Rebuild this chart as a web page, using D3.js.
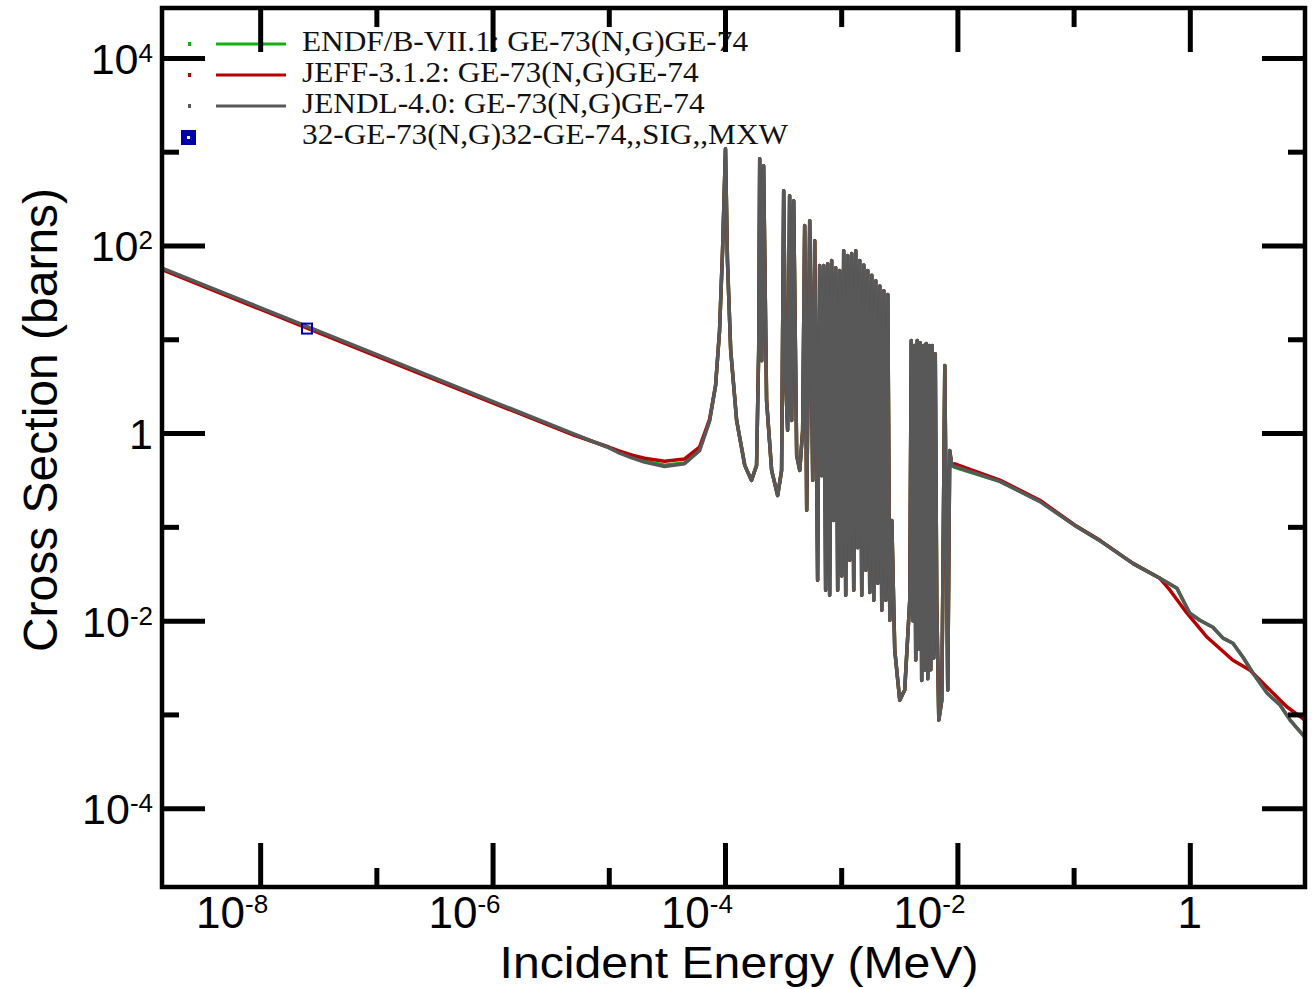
<!DOCTYPE html>
<html>
<head>
<meta charset="utf-8">
<script src="https://cdn.jsdelivr.net/npm/d3@7"></script>
<style>
  body { margin: 0; background: #fff; }
  svg { display: block; }
</style>
</head>
<body>
<svg id="chart" width="1312" height="989"></svg>
<script>
// ---- data ----
// energies in MeV, cross sections in barns

// smooth 1/v region, below the first resonance
let smoothE = [1.43e-9, 1e-8, 1e-7, 1e-6, 5e-6, 1e-5, 1.24e-5, 1.6e-5, 2.03e-5, 3.02e-5, 4.49e-5, 6.04e-5, 7.37e-5];
let endfSmooth = [56.6, 21.4, 6.77, 2.14, 0.96, 0.70, 0.62, 0.55, 0.50, 0.455, 0.48, 0.66, 1.36];
let jeffSmooth = [55.2, 20.9, 6.6, 2.1, 0.95, 0.71, 0.64, 0.58, 0.54, 0.50, 0.53, 0.71, 1.4];
let jendlSmooth = [57.5, 21.8, 6.9, 2.18, 0.98, 0.70, 0.61, 0.54, 0.49, 0.44, 0.47, 0.65, 1.34];

// resolved resonance region (the three libraries overlap at this scale)
let resE = [8.3e-5, 8.98e-5, 9.53e-5, 1.01e-4, 1.05e-4, 1.12e-4, 1.26e-4, 1.48e-4, 1.69e-4, 1.87e-4,
  1.95e-4, 1.99e-4, 2.07e-4, 2.15e-4, 2.28e-4, 2.52e-4, 2.84e-4, 3.07e-4, 3.20e-4, 3.33e-4,
  3.46e-4, 3.60e-4, 3.75e-4, 3.90e-4, 4.14e-4, 4.40e-4, 4.66e-4, 4.85e-4, 5.05e-4, 5.36e-4,
  5.69e-4, 5.92e-4,
  6.27e-4, 6.53e-4, 6.79e-4, 7.07e-4, 7.35e-4, 7.65e-4, 7.96e-4, 8.28e-4, 8.62e-4, 8.97e-4,
  9.33e-4, 9.71e-4, 1.010e-3, 1.051e-3, 1.094e-3, 1.138e-3, 1.184e-3, 1.232e-3, 1.282e-3, 1.334e-3,
  1.388e-3, 1.444e-3, 1.503e-3, 1.564e-3, 1.627e-3, 1.693e-3, 1.761e-3, 1.833e-3, 1.907e-3, 1.984e-3,
  2.064e-3, 2.148e-3, 2.235e-3, 2.326e-3, 2.420e-3, 2.518e-3, 2.620e-3, 2.726e-3,
  2.89e-3, 3.19e-3, 3.52e-3,
  3.89e-3, 4.01e-3, 4.13e-3, 4.25e-3, 4.38e-3, 4.51e-3, 4.65e-3, 4.79e-3, 4.93e-3, 5.08e-3,
  5.24e-3, 5.39e-3, 5.56e-3, 5.72e-3, 5.90e-3, 6.07e-3, 6.26e-3, 6.45e-3, 6.64e-3,
  6.92e-3, 7.34e-3, 7.79e-3, 8.26e-3, 8.59e-3, 8.95e-3];
let resSigma = [3.21, 12.4, 88, 1075, 68.9, 7.6, 1.36, 0.452, 0.313, 0.452,
  7.6, 840, 5.9, 708, 2.22, 0.40, 0.216, 0.40, 384, 3.63,
  1.07, 339, 1.36, 300, 0.577, 0.40, 1.07, 163, 0.150, 184,
  0.313, 112,
  0.0269, 61, 0.35, 61, 0.0211, 64, 0.0186, 69, 0.117, 58,
  0.0211, 54, 0.03, 88, 0.0186, 78, 0.044, 82, 0.0211, 88,
  0.06, 69, 0.0186, 62, 0.0344, 54, 0.02, 48, 0.0165, 42,
  0.025, 37, 0.0129, 33, 0.0165, 30, 0.0101, 0.117,
  0.00484, 0.00142, 0.00182,
  0.0165, 9.7, 0.01, 8.6, 0.0038, 9.7, 0.005, 9.2, 0.0023, 8.6,
  0.003, 9.0, 0.0024, 8.6, 0.003, 8.6, 0.004, 7.0, 0.0165,
  0.00087, 0.00142, 5.25, 0.00182, 0.653, 0.452];

// fast region
let endfTailE = [9.5e-3, 2.32e-2, 5.13e-2, 0.1026, 0.168, 0.324, 0.553, 0.776, 0.875, 1.0, 1.22, 1.58, 1.93, 2.35, 2.87, 3.50, 4.62, 5.98, 7.30, 9.8];
let endfTail = [0.43, 0.305, 0.188, 0.104, 0.0718, 0.0408, 0.0283, 0.0221, 0.0165, 0.0120, 0.0101, 0.0085, 0.0065, 0.00574, 0.00407, 0.00275, 0.00169, 0.00126, 0.00087, 0.00057];
let jeffTailE = [9.5e-3, 2.32e-2, 5.13e-2, 0.1026, 0.168, 0.324, 0.553, 0.675, 0.946, 1.41, 2.35, 3.30, 4.62, 6.87, 9.8];
let jeffTail = [0.47, 0.315, 0.192, 0.104, 0.0718, 0.0408, 0.0283, 0.0211, 0.0120, 0.00665, 0.00378, 0.00296, 0.00195, 0.00120, 0.00087];
let jendlTailE = [9.5e-3, 2.32e-2, 5.13e-2, 0.1026, 0.168, 0.324, 0.553, 0.776, 0.875, 1.0, 1.22, 1.58, 1.93, 2.35, 2.87, 3.50, 4.62, 5.98, 7.30, 9.8];
let jendlTail = [0.44, 0.305, 0.186, 0.103, 0.0712, 0.0405, 0.0283, 0.0221, 0.0165, 0.0120, 0.0101, 0.0085, 0.0065, 0.00574, 0.00407, 0.00275, 0.00169, 0.00126, 0.00087, 0.00057];

// Maxwellian / thermal point
let mxwE = [2.53e-8];
let mxwSigma = [13.0];

let legendLabels = [
  "ENDF/B-VII.1: GE-73(N,G)GE-74",
  "JEFF-3.1.2: GE-73(N,G)GE-74",
  "JENDL-4.0: GE-73(N,G)GE-74",
  "32-GE-73(N,G)32-GE-74,,SIG,,MXW"
];
let seriesColors = ["#10b010", "#b80000", "#585858"];

let xMajor = [1e-8, 1e-6, 1e-4, 1e-2, 1];
let xMinor = [1e-7, 1e-5, 1e-3, 1e-1];
let xLabelExp = [-8, -6, -4, -2, 0];
let yMajor = [1e4, 1e2, 1, 1e-2, 1e-4];
let yMinor = [1e3, 1e1, 1e-1, 1e-3];
let yLabelExp = [4, 2, 0, -2, -4];

// ---- layout ----
let plotLeft = 162, plotRight = 1305, plotTop = 8, plotBottom = 887;

let svg = d3.select("#chart");

let x = d3.scaleLog()
  .domain([1.43e-9, 9.8])
  .range([plotLeft, plotRight]);
let y = d3.scaleLog()
  .domain([Math.pow(10, -4.84), Math.pow(10, 4.532)])
  .range([plotBottom, plotTop]);

svg.append("defs").append("clipPath").attr("id", "plotclip")
  .append("rect")
  .attr("x", plotLeft).attr("y", plotTop)
  .attr("width", plotRight - plotLeft).attr("height", plotBottom - plotTop);

function build(es, ss) {
  return d3.zip(es, ss);
}
let endfData = build(smoothE.concat(resE, endfTailE), endfSmooth.concat(resSigma, endfTail));
let jeffData = build(smoothE.concat(resE, jeffTailE), jeffSmooth.concat(resSigma, jeffTail));
let jendlData = build(smoothE.concat(resE, jendlTailE), jendlSmooth.concat(resSigma, jendlTail));

let line = d3.line()
  .x(d => x(d[0]))
  .y(d => y(d[1]));

let plot = svg.append("g").attr("clip-path", "url(#plotclip)");

[endfData, jeffData, jendlData].forEach((data, i) => {
  plot.append("path")
    .datum(data)
    .attr("fill", "none")
    .attr("stroke", seriesColors[i])
    .attr("stroke-width", 3.5)
    .attr("stroke-linejoin", "round")
    .attr("d", line);
});

plot.selectAll("rect.mxw")
  .data(d3.zip(mxwE, mxwSigma))
  .enter()
  .append("rect")
  .attr("class", "mxw")
  .attr("x", d => x(d[0]) - 5)
  .attr("y", d => y(d[1]) - 5)
  .attr("width", 10)
  .attr("height", 10)
  .attr("fill", "none")
  .attr("stroke", "#0000b0")
  .attr("stroke-width", 2);

// ---- legend ----
let legend = svg.append("g");
legendLabels.forEach((lab, i) => {
  let ly = 44 + i * 31;
  if (i < 3) {
    legend.append("rect")
      .attr("x", 188).attr("y", ly - 2)
      .attr("width", 3).attr("height", 4)
      .attr("fill", seriesColors[i]);
    legend.append("line")
      .attr("x1", 216).attr("x2", 286)
      .attr("y1", ly).attr("y2", ly)
      .attr("stroke", seriesColors[i])
      .attr("stroke-width", 3);
  } else {
    legend.append("rect")
      .attr("x", 181).attr("y", ly - 7)
      .attr("width", 15).attr("height", 15)
      .attr("fill", "#0000a8");
    legend.append("rect")
      .attr("x", 187).attr("y", ly - 1)
      .attr("width", 3).attr("height", 3)
      .attr("fill", "#fff");
  }
  legend.append("text")
    .attr("transform", "translate(302," + (ly + 7) + ") scale(1.08,1)")
    .attr("font-family", "'Liberation Serif', 'Times New Roman', serif")
    .attr("font-size", 29)
    .attr("fill", "#111")
    .text(lab);
});

// ---- axes: ticks pointing inward on all four sides ----
function styleAxis(g) {
  g.select(".domain").remove();
  g.selectAll(".tick line").attr("stroke", "#000").attr("stroke-width", 5);
  g.selectAll(".tick text").remove();
}
svg.append("g").attr("transform", "translate(0," + plotBottom + ")")
  .call(d3.axisBottom(x).tickValues(xMajor).tickSize(-44)).call(styleAxis);
svg.append("g").attr("transform", "translate(0," + plotBottom + ")")
  .call(d3.axisBottom(x).tickValues(xMinor).tickSize(-19)).call(styleAxis);
svg.append("g").attr("transform", "translate(0," + plotTop + ")")
  .call(d3.axisTop(x).tickValues(xMajor).tickSize(-44)).call(styleAxis);
svg.append("g").attr("transform", "translate(0," + plotTop + ")")
  .call(d3.axisTop(x).tickValues(xMinor).tickSize(-19)).call(styleAxis);
svg.append("g").attr("transform", "translate(" + plotLeft + ",0)")
  .call(d3.axisLeft(y).tickValues(yMajor).tickSize(-43)).call(styleAxis);
svg.append("g").attr("transform", "translate(" + plotLeft + ",0)")
  .call(d3.axisLeft(y).tickValues(yMinor).tickSize(-17)).call(styleAxis);
svg.append("g").attr("transform", "translate(" + plotRight + ",0)")
  .call(d3.axisRight(y).tickValues(yMajor).tickSize(-43)).call(styleAxis);
svg.append("g").attr("transform", "translate(" + plotRight + ",0)")
  .call(d3.axisRight(y).tickValues(yMinor).tickSize(-17)).call(styleAxis);

svg.append("rect")
  .attr("x", plotLeft).attr("y", plotTop)
  .attr("width", plotRight - plotLeft).attr("height", plotBottom - plotTop)
  .attr("fill", "none")
  .attr("stroke", "#000")
  .attr("stroke-width", 4.5);

// ---- tick labels with superscript exponents ----
let labelFont = "'Liberation Sans', Arial, sans-serif";

xMajor.forEach((v, i) => {
  let e = xLabelExp[i];
  let t = svg.append("text")
    .attr("font-family", labelFont)
    .attr("font-size", 44)
    .attr("fill", "#000")
    .attr("y", plotBottom + 41);
  if (e === 0) {
    t.attr("x", x(v)).attr("text-anchor", "middle").text("1");
  } else {
    t.attr("x", x(v) + 8).attr("text-anchor", "end");
    t.append("tspan").text("10");
    t.append("tspan").attr("font-size", 26).attr("dy", -15).text(e);
  }
});

yMajor.forEach((v, i) => {
  let e = yLabelExp[i];
  let t = svg.append("text")
    .attr("font-family", labelFont)
    .attr("font-size", 43)
    .attr("fill", "#000")
    .attr("x", 153)
    .attr("y", y(v) + 16)
    .attr("text-anchor", "end");
  if (e === 0) {
    t.text("1");
  } else {
    t.append("tspan").text("10");
    t.append("tspan").attr("font-size", 26).attr("dy", -12).text(e);
  }
});

// ---- axis titles ----
svg.append("text")
  .attr("transform", "translate(739,978) scale(1.07,1)")
  .attr("text-anchor", "middle")
  .attr("font-family", labelFont)
  .attr("font-size", 45)
  .attr("fill", "#000")
  .text("Incident Energy (MeV)");

svg.append("text")
  .attr("transform", "translate(57,420) rotate(-90)")
  .attr("text-anchor", "middle")
  .attr("font-family", labelFont)
  .attr("font-size", 48)
  .attr("fill", "#000")
  .text("Cross Section (barns)");
</script>
</body>
</html>
